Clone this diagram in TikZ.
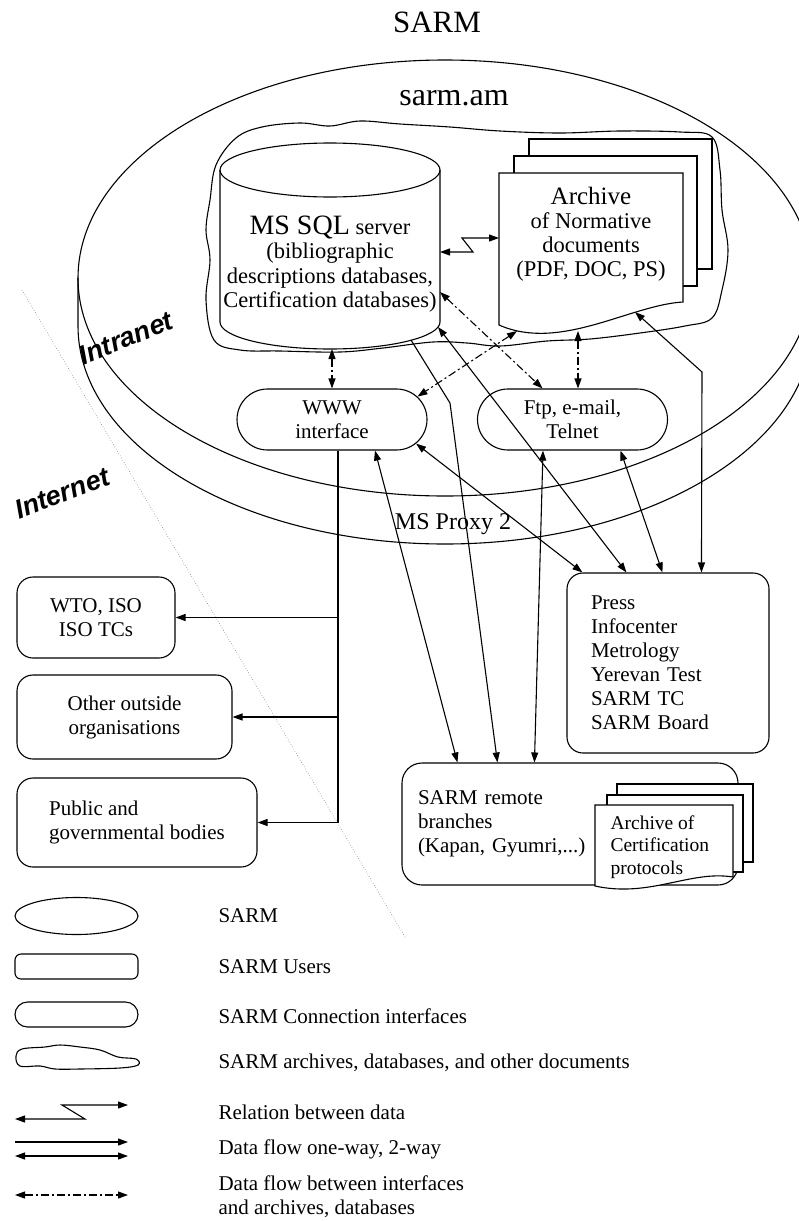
\documentclass[tikz,border=0pt]{standalone}
\usepackage{fontspec}
\setmainfont{Liberation Serif}
\newfontfamily\netfont{Liberation Sans}
\usetikzlibrary{arrows.meta, positioning, shapes.misc, shapes.geometric}

\begin{document}
\begin{tikzpicture}[x=1pt, y=-1pt, line width=1.1pt,
    >={Triangle[length=10pt,width=7pt]},
    txt/.style={font=\fontsize{21}{24}\selectfont},
    user/.style={rectangle, draw, rounded corners=16pt, txt},
    iface/.style={rounded rectangle, draw, txt, align=center,
        minimum width=190pt, minimum height=61pt, inner sep=0pt},
    flow/.style={<->},
    dflow/.style={<->, dash pattern=on 8pt off 3pt on 2pt off 3pt},
    net/.style={font=\netfont\bfseries\itshape\fontsize{27}{30}\selectfont},
    legtext/.style={anchor=west, txt, align=left, inner sep=0pt}]
    \useasboundingbox (0,0) rectangle (798,1221);

        \node[font=\fontsize{31}{36}\selectfont] (title) at (437,22) {SARM};

        \draw (445,278) ellipse [x radius=367pt, y radius=218pt];
        \draw (78,278) -- (78,326) arc [start angle=180, end angle=360, x radius=367pt, y radius=218pt] -- (812,278);
        \node[anchor=base, font=\fontsize{32}{36}\selectfont] (site) at (454,105) {sarm.am};
        \node[anchor=base, font=\fontsize{24}{28}\selectfont] (proxy) at (453,529) {MS Proxy 2};

        \draw plot[smooth cycle, tension=0.6] coordinates {(210,200) (216,165) (236,138) (262,127)
            (300,123) (330,126) (360,121) (400,124) (450,127) (500,131) (560,133) (620,131)
            (680,132) (712,137) (720,170) (722,210) (728,250) (722,290) (712,318) (685,326)
            (640,333) (590,339) (547,341) (500,346) (467,343) (433,342) (383,348) (340,352)
            (280,351) (240,350) (214,340) (206,300) (210,260) (206,230)};

        \draw (220,170) -- (220,322) arc [start angle=180, end angle=360, x radius=110pt, y radius=27pt] -- (440,170);
        \draw (330,170) ellipse [x radius=110pt, y radius=27pt];
        \node[align=center, font=\fontsize{22.5}{24.5}\selectfont] (sql) at (330,264)
            {{\fontsize{28}{28}\selectfont MS SQL} server\\(bibliographic\\descriptions databases,\\Certification databases)};

        \draw[fill=white] (529,139) rectangle (712,269);
        \draw[fill=white] (514,156) rectangle (697,286);
        \draw[fill=white] (499,173) -- (683,173) -- (683,302) .. controls (630,305) and (560,352) .. (499,325) -- cycle;
        \node[align=center, font=\fontsize{22.5}{24}\selectfont] (arch) at (591,234)
            {{\fontsize{25}{27}\selectfont Archive}\\of Normative\\documents\\(PDF, DOC, PS)};

        \coordinate (sql-s) at (332,349);
        \coordinate (sql-s2) at (411,340);
        \coordinate (sql-e1) at (440,292);
        \coordinate (sql-e2) at (438,327);
        \coordinate (sql-e3) at (440,252);
        \coordinate (arch-w) at (499,238);
        \coordinate (arch-b1) at (517,331);
        \coordinate (arch-b2) at (578,331);
        \coordinate (arch-b3) at (635,312);
        \coordinate (kink) at (450,403);
        \coordinate (bend) at (702,372);

        \node[iface] (www) at (332,419.5) {WWW\\interface};
        \node[iface] (ftp) at (572.5,419.5) {Ftp, e-mail,\\Telnet};

        \node[user, text width=154pt, inner xsep=24pt, minimum height=180pt, align=left] (press) at (668,663)
            {Press\\Infocenter\\Metrology\\Yerevan Test\\SARM TC\\SARM Board};
        \node[user, rounded corners=20pt, text width=304pt, inner xsep=16pt, minimum height=122pt, align=left] (remote) at (570,824)
            {SARM remote\\branches\\(Kapan, Gyumri,...)};

        \draw[fill=white] (617,784) rectangle (753,862);
        \draw[fill=white] (607,795) rectangle (743,872);
        \draw[fill=white] (595,805) -- (733,805) -- (733,877) .. controls (690,870) and (650,898) .. (595,886) -- cycle;
        \node[anchor=west, align=left, inner xsep=0pt, font=\fontsize{19.5}{22.5}\selectfont] (cert) at (610,847)
            {Archive of\\Certification\\protocols};

        \node[user, minimum width=158pt, minimum height=81pt, align=center] (wto) at (96,617.5) {WTO, ISO\\ISO TCs};
        \node[user, minimum width=215pt, minimum height=84pt, align=center] (other) at (124.5,717) {Other outside\\organisations};
        \node[user, minimum width=240pt, minimum height=89pt, align=left] (public) at (137,822.5) {Public and\\governmental bodies};

        \draw[gray, line width=0.6pt, dotted] (22,290) -- (405,937);
        \node[net, rotate=22] (intra) at (126,338) {Intranet};
        \node[net, rotate=21] (inter) at (62,493) {Internet};

        \draw[flow] (sql-e3) -- ++(33,0) -- ++(-11,-14) -- (arch-w);

        \draw[dflow] (sql-s) -- (www.north);
        \draw[dflow] (sql-e1) -- ([xshift=-30pt]ftp.north);
        \draw[dflow] (arch-b1) -- (www.15);
        \draw[dflow] (arch-b2) -- (arch-b2 |- ftp.north);

        \draw[flow] (www.-16) -- ([xshift=16pt]press.north west);
        \draw[flow] (sql-e2) -- ([xshift=60pt]press.north west);
        \draw[flow] ([xshift=48pt]ftp.south) -- ([xshift=96pt]press.north west);
        \draw[flow] (arch-b3) -- (bend) -- ([xshift=135pt]press.north west);

        \draw[flow] ([xshift=43pt]www.south) -- ([xshift=56pt]remote.north west);
        \draw[->] (sql-s2) -- (kink) -- ([xshift=96pt]remote.north west);
        \draw[flow] ([xshift=-29.5pt]ftp.south) -- ([xshift=133pt]remote.north west);

        \coordinate (bus) at ([xshift=6pt]www.south);
        \draw (bus) -- (bus |- public.east);
        \draw[->] (bus |- wto.east) -- (wto.east);
        \draw[->] (bus |- other.east) -- (other.east);
        \draw[->] (bus |- public.east) -- (public.east);

        % legend
        \node[ellipse, draw, minimum width=123pt, minimum height=37pt, inner sep=0pt] (key-sarm) at (76.5,916) {};
        \node[rectangle, draw, rounded corners=6pt, minimum width=123pt, minimum height=25pt] (key-user) at (76.5,966.5) {};
        \node[rounded rectangle, draw, inner sep=0pt, minimum width=123pt, minimum height=25pt] (key-iface) at (76.5,1014.5) {};
        \draw plot[smooth cycle, tension=0.6] coordinates {(16,1056) (22,1049) (45,1047) (60,1045)
            (80,1047) (100,1050) (118,1057) (136,1059) (138,1065) (120,1068) (80,1069) (55,1069)
            (40,1066) (20,1066)};
        \draw[<->] (15,1119) -- (85,1119) -- (62,1105) -- (128,1105);
        \draw[->] (15,1142) -- (128,1142);
        \draw[<->] (15,1156) -- (128,1156);
        \draw[dflow] (15,1195) -- (128,1195);

        \node[legtext] (t-sarm) at (218,916) {SARM};
        \node[legtext] (t-user) at (218,967) {SARM Users};
        \node[legtext] (t-iface) at (218,1016) {SARM Connection interfaces};
        \node[legtext] (t-arch) at (218,1063) {SARM archives, databases, and other documents};
        \node[legtext] (t-rel) at (218,1112) {Relation between data};
        \node[legtext] (t-flow) at (218,1149) {Data flow one-way, 2-way};
        \node[legtext] (t-dflow) at (218,1197) {Data flow between interfaces\\and archives, databases};

\end{tikzpicture}
\end{document}
